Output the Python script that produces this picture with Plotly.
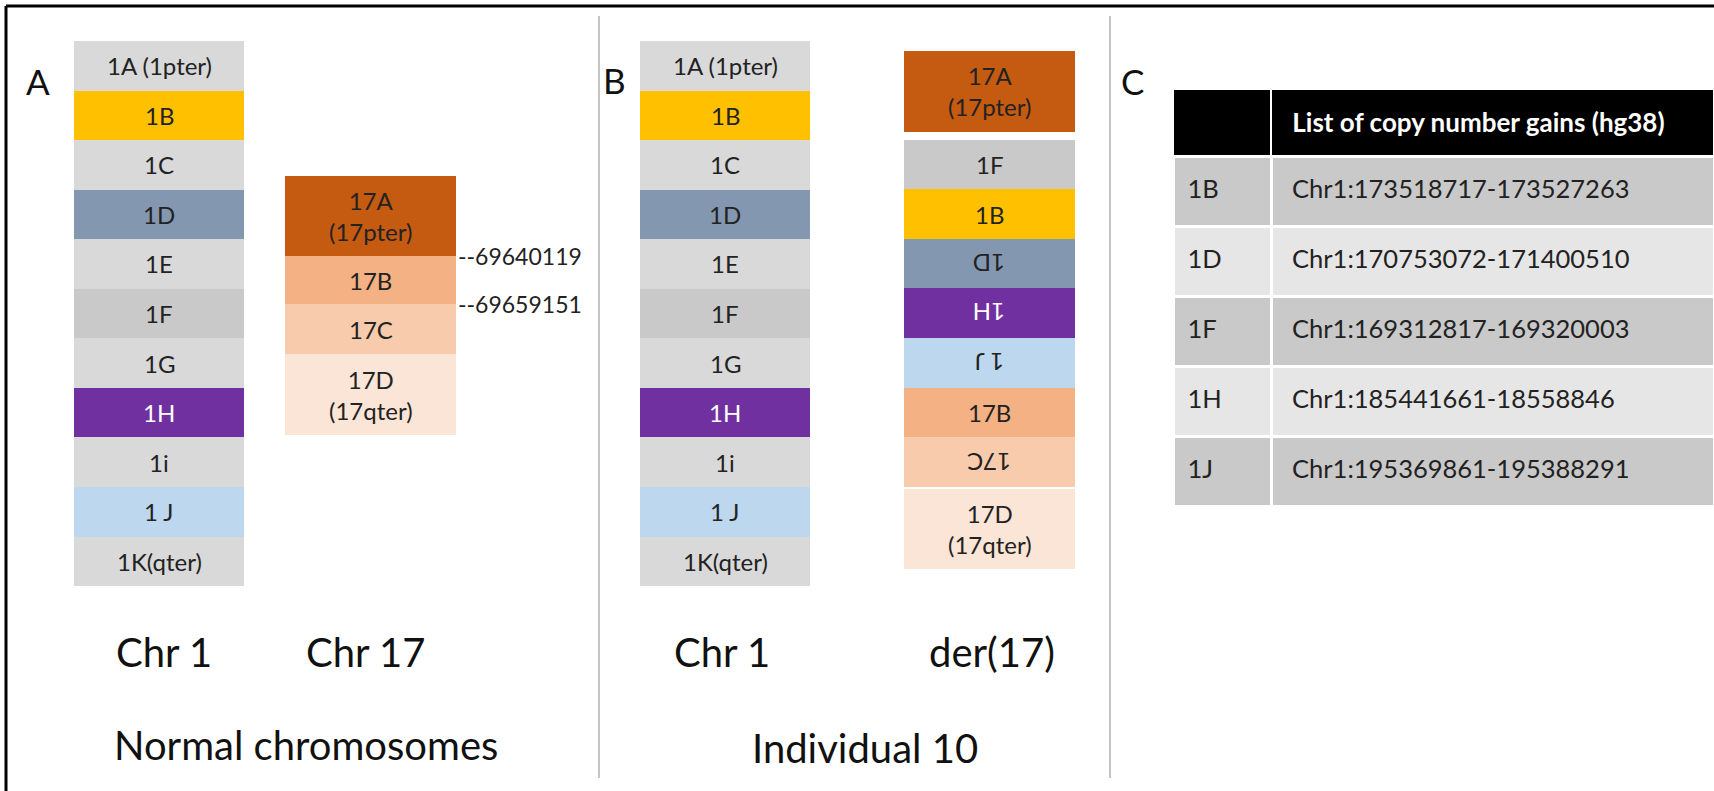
import plotly.graph_objects as go

# ---------------- data ----------------
chr1_bands = ["1A (1pter)", "1B", "1C", "1D", "1E", "1F", "1G", "1H", "1i", "1 J", "1K(qter)"]
chr1_lengths = [1, 1, 1, 1, 1, 1, 1, 1, 1, 1, 1]

chr17_bands = ["17A<br>(17pter)", "17B", "17C", "17D<br>(17qter)"]
chr17_lengths = [1.62, 0.97, 1.01, 1.63]
chr17_breakpoints = ["--69640119", "--69659151"]  # at the 17A/17B and 17B/17C junctions

der17_bands = ["17A<br>(17pter)", "1F", "1B", "1D", "1H", "1 J", "17B", "17C", "17D<br>(17qter)"]
der17_lengths = [1.63, 1, 1, 1, 1, 1, 1, 1, 1.63]
der17_inverted = [False, False, False, True, True, True, False, True, False]

table_header = ["", "List of copy number gains (hg38)"]
table_segments = ["1B", "1D", "1F", "1H", "1J"]
table_coords = ["Chr1:173518717-173527263", "Chr1:170753072-171400510",
                "Chr1:169312817-169320003", "Chr1:185441661-18558846",
                "Chr1:195369861-195388291"]

# ---------------- styles ----------------
FONT = "Lato, 'Open Sans', sans-serif"
TEXT = "#222222"
band_colors = {
    "1A (1pter)": "#d9d9d9", "1B": "#ffc000", "1C": "#d9d9d9", "1D": "#8497b0",
    "1E": "#d9d9d9", "1F": "#c9c9c9", "1G": "#d9d9d9", "1H": "#7030a0",
    "1i": "#d9d9d9", "1 J": "#bdd7ee", "1K(qter)": "#d9d9d9",
    "17A<br>(17pter)": "#c55a11", "17B": "#f4b183", "17C": "#f8cbad",
    "17D<br>(17qter)": "#fbe5d6",
}
white_text = {"1H"}

# ---------------- layout constants (pixels) ----------------
W, H = 1714, 791
U = 49.55  # pixels per band unit
BAND_FONT = 24
NB = "\u00a0"

fig = go.Figure()
annotations = []


def add_chromosome(bands, lengths, cx, width, top, inverted=None, gaps=None):
    inverted = inverted or [False] * len(bands)
    gaps = gaps or {}
    bases, heights = [], []
    y = top
    for i, ln in enumerate(lengths):
        y += gaps.get(i, 0)
        bases.append(y)
        heights.append(ln * U)
        y += ln * U
    fig.add_trace(go.Bar(
        x=[cx] * len(bands), y=heights, base=bases, width=[width] * len(bands),
        marker=dict(color=[band_colors[b] for b in bands], line=dict(width=0)),
        hoverinfo="skip", showlegend=False,
    ))
    for b, base, h, inv in zip(bands, bases, heights, inverted):
        annotations.append(dict(
            x=cx, y=base + h / 2, xref="x", yref="y", text=b, showarrow=False,
            textangle=180 if inv else 0,
            font=dict(family=FONT, size=BAND_FONT, color="white" if b in white_text else TEXT),
            xanchor="center", yanchor="middle",
        ))
    return bases, heights


# Panel A
add_chromosome(chr1_bands, chr1_lengths, 159, 170, 41)
b17, h17 = add_chromosome(chr17_bands, chr17_lengths, 370.5, 171, 176)
for i, lab in enumerate(chr17_breakpoints):
    annotations.append(dict(
        x=456, y=b17[i] + h17[i], xref="x", yref="y", text=lab, showarrow=False,
        xanchor="left", yanchor="middle", font=dict(family=FONT, size=23, color=TEXT),
    ))

# Panel B
add_chromosome(chr1_bands, chr1_lengths, 725, 170, 41)
add_chromosome(der17_bands, der17_lengths, 989.5, 171, 51,
               inverted=der17_inverted, gaps={1: 8, 8: 2})

# Big labels
def label(x, y, text, size):
    annotations.append(dict(
        x=x, y=y, xref="x", yref="y", text=text, showarrow=False,
        xanchor="center", yanchor="middle", font=dict(family=FONT, size=size, color="#111111"),
    ))

label(164, 652, "Chr 1", 40)
label(365, 652, "Chr 17", 40)
label(722, 652, "Chr 1", 40)
label(992, 652, "der(17)", 40)
label(306, 745, "Normal chromosomes", 40)
label(865, 748, "Individual 10", 40)
label(38, 81, "A", 35)
label(614, 80, "B", 35)
label(1132, 81, "C", 35)

# Panel C table: one layer with the cell fills, one layer with the text
row_fill = ["#c9c9c9", "#e6e6e6", "#c9c9c9", "#e6e6e6", "#c9c9c9"]
CLEAR = "rgba(0,0,0,0)"
TOP = 89
fig.add_trace(go.Table(
    domain=dict(x=[1173 / W, 1.0], y=[1 - 530 / H, 1 - TOP / H]),
    columnwidth=[98, 443],
    header=dict(values=["", ""], fill_color="#000000", line=dict(color="white", width=2),
                height=67),
    cells=dict(values=[["" for _ in table_segments], ["" for _ in table_coords]],
               fill_color=[row_fill, row_fill], line=dict(color="white", width=3),
               height=70),
))
fig.add_trace(go.Table(
    domain=dict(x=[1173 / W, 1.0], y=[1 - 545 / H, 1 - (TOP + 9) / H]),
    columnwidth=[98, 443],
    header=dict(
        values=[NB * 2 + "<b>" + h + "</b>" if h else "" for h in table_header],
        fill_color=CLEAR, line=dict(color=CLEAR, width=0),
        font=dict(family=FONT, size=26, color="white"), align="left", height=73,
    ),
    cells=dict(
        values=[[NB + s for s in table_segments], [NB * 2 + c for c in table_coords]],
        fill_color=CLEAR, line=dict(color=CLEAR, width=0),
        font=dict(family=FONT, size=25.5, color=TEXT), align="left", height=70,
    ),
))

shapes = [
    # outer frame (top and left edges)
    dict(type="line", xref="x", yref="y", x0=6, x1=W, y0=6, y1=6, line=dict(color="black", width=3)),
    dict(type="line", xref="x", yref="y", x0=6, x1=6, y0=6, y1=H, line=dict(color="black", width=3)),
    # panel dividers
    dict(type="line", xref="x", yref="y", x0=599, x1=599, y0=16, y1=778, line=dict(color="#b0b0b0", width=1.5)),
    dict(type="line", xref="x", yref="y", x0=1110, x1=1110, y0=16, y1=778, line=dict(color="#b0b0b0", width=1.5)),
]

fig.update_layout(
    width=W, height=H, margin=dict(l=0, r=0, t=0, b=0),
    paper_bgcolor="white", plot_bgcolor="white",
    xaxis=dict(range=[0, W], visible=False, fixedrange=True),
    yaxis=dict(range=[H, 0], visible=False, fixedrange=True),
    barmode="overlay", bargap=0,
    annotations=annotations, shapes=shapes, showlegend=False,
)

fig.write_html("out.html", config={"displayModeBar": False},
               post_script="document.body.style.margin='0px';")
